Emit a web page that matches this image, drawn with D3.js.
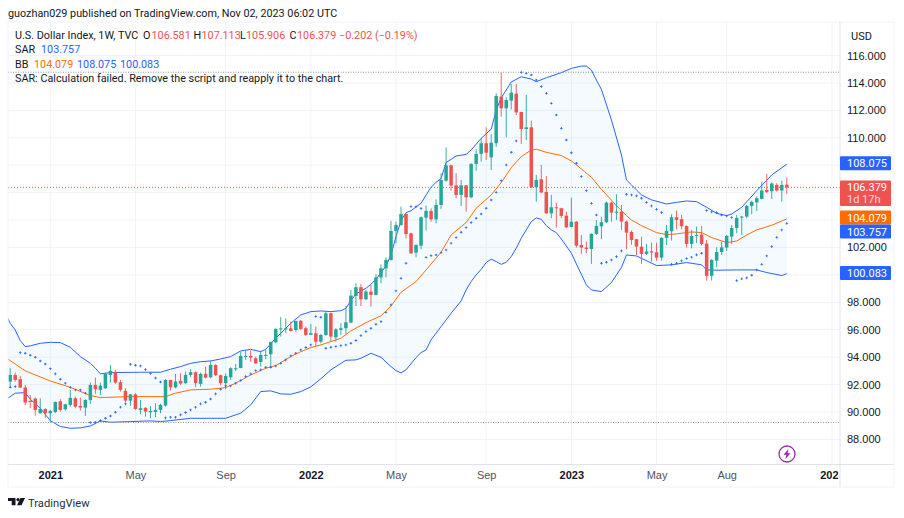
<!DOCTYPE html>
<html>
<head>
<meta charset="utf-8">
<script src="https://cdnjs.cloudflare.com/ajax/libs/d3/7.8.5/d3.min.js"></script>
<style>
   html, body { margin: 0; padding: 0; background: #ffffff; }
   svg { display: block; font-family: Roboto, sans-serif; }
   text { font-size: 11px; fill: #131722; }
</style>
</head>
<body>
<svg id="canvas"></svg>
<script>
// Weekly candles, index 0 is the week of Nov 9 2020
const opens = [
   92.22,92.70,92.39,91.78,90.81,90.98,89.91,90.22,89.91,90.00,90.78,90.20,90.52,91.00,90.44,90.32,90.88,91.97,91.61,91.73,
   92.70,92.92,92.17,91.54,90.83,91.29,90.15,90.30,89.98,90.00,90.15,90.47,92.34,91.80,92.27,92.10,92.70,92.90,92.05,92.78,
   92.53,93.43,92.68,92.10,92.53,93.16,93.21,94.04,94.09,93.92,93.65,94.11,94.21,95.08,96.06,96.06,96.10,95.98,96.65,96.11,
   95.62,95.74,95.13,95.62,97.20,95.45,95.99,96.11,96.52,98.46,99.10,98.22,98.78,98.54,99.82,100.48,101.09,103.20,103.64,104.44,
   103.03,101.62,102.13,104.17,104.66,104.05,105.10,106.87,107.99,106.53,105.83,106.53,105.66,108.09,108.82,109.60,108.57,109.60,113.00,112.15,
   112.71,113.22,111.88,110.64,110.76,106.39,106.97,106.05,104.49,104.93,104.86,104.32,103.50,103.88,102.18,101.99,101.89,102.99,103.54,103.84,
   105.27,104.54,104.61,103.89,103.13,102.60,102.06,101.53,101.72,101.65,101.26,102.70,103.18,104.20,104.06,103.57,102.26,102.86,102.94,102.28,
   99.93,101.04,101.67,101.99,102.79,103.42,104.18,104.25,105.03,105.29,105.54,106.19,106.10,106.56,106.15,106.581
];
const closes = [
   92.70,92.34,91.78,90.69,90.73,90.15,90.22,89.91,90.08,90.73,90.15,90.56,91.03,90.39,90.32,90.88,91.97,91.66,91.92,92.78,
   93.00,92.14,91.61,90.83,91.29,90.22,90.27,90.03,90.08,90.15,90.52,92.34,91.80,92.22,92.07,92.70,92.90,92.10,92.78,92.51,
   93.43,92.68,92.10,92.63,93.19,93.19,94.09,94.09,93.97,93.55,94.16,94.16,95.11,96.06,96.10,96.10,95.91,96.64,96.06,95.62,
   95.74,95.13,95.62,97.20,95.50,96.03,96.11,96.54,98.49,99.10,98.22,98.78,98.54,99.82,100.48,101.09,103.20,103.64,104.44,102.98,
   101.57,102.18,104.20,104.66,104.05,105.10,106.92,107.99,106.51,105.83,106.53,105.66,108.09,108.82,109.60,108.91,109.64,113.05,112.15,112.75,
   113.29,111.85,110.64,110.76,106.39,106.92,106.02,104.49,104.93,104.86,104.30,103.47,103.88,102.13,101.99,101.89,102.99,103.57,103.84,105.27,
   104.54,104.61,103.89,103.08,102.55,102.06,101.53,101.70,101.63,101.26,102.70,103.21,104.20,104.01,103.55,102.26,102.84,102.91,102.26,99.93,
   101.09,101.67,102.01,102.84,103.42,104.15,104.25,105.03,105.32,105.59,106.15,106.05,106.66,106.15,106.56,106.379
];
const highs = [
   93.19,92.87,92.63,91.97,91.24,91.05,91.00,90.27,90.15,90.76,90.93,90.59,91.61,91.12,91.05,90.93,92.14,92.51,92.14,92.87,
   93.43,93.07,92.34,91.73,91.32,91.37,90.88,90.35,90.44,90.64,90.59,92.39,92.34,92.78,92.82,92.95,93.12,92.95,92.87,93.31,
   93.75,93.48,92.73,92.82,93.26,93.50,94.40,94.48,94.48,94.04,94.48,94.52,95.13,96.10,96.91,96.83,96.59,96.66,96.71,96.23,
   96.42,96.23,95.67,97.32,97.25,96.11,96.47,97.73,98.90,99.39,99.34,98.90,99.27,100.04,100.77,101.28,103.93,103.88,104.98,104.54,
   103.08,102.23,104.25,105.05,104.85,105.51,107.41,109.30,108.04,107.41,106.92,106.56,108.14,109.16,109.96,110.76,110.28,113.24,114.75,112.95,
   113.92,113.92,111.90,113.12,111.25,107.29,108.02,107.21,105.83,105.27,104.90,104.61,105.63,103.93,102.91,102.43,103.03,104.00,104.25,105.34,
   105.34,105.88,105.10,103.96,103.23,102.62,102.79,102.26,102.35,102.35,102.74,103.64,104.42,104.69,104.37,103.59,103.28,103.52,103.57,102.55,
   101.14,102.01,102.43,102.91,103.64,104.37,104.30,105.10,105.42,105.71,106.80,107.36,106.75,106.68,106.87,107.113
];
const lows = [
   91.80,92.22,91.73,90.49,90.27,89.74,89.86,89.54,89.23,89.91,90.03,90.10,90.39,90.27,90.10,89.71,90.59,91.32,91.24,91.68,
   92.14,92.05,91.49,90.71,90.44,90.15,89.84,89.66,89.54,89.62,89.91,90.39,91.56,91.73,91.97,92.05,92.53,91.80,91.85,92.46,
   92.46,92.63,91.95,91.66,92.34,92.99,93.19,93.80,93.67,93.50,93.31,93.84,93.31,95.01,95.50,95.74,95.86,95.86,95.99,95.55,
   95.62,94.82,95.01,95.57,95.18,95.13,95.62,95.69,96.47,97.73,97.73,98.17,97.69,98.49,99.39,99.82,101.04,102.30,103.59,102.67,
   101.53,101.28,101.87,103.23,103.88,103.76,104.81,106.80,106.14,105.59,105.03,104.61,105.59,107.60,108.26,108.38,107.65,109.35,111.54,110.03,
   112.07,111.66,109.55,109.84,106.31,105.34,105.95,104.44,104.13,103.45,104.13,103.40,103.47,101.99,101.53,101.58,100.80,102.91,102.60,103.76,
   103.88,104.00,103.28,101.87,102.19,101.45,100.80,101.45,100.97,101.04,101.04,102.18,102.50,103.33,103.33,101.99,101.94,102.31,102.16,99.58,
   99.58,100.56,101.45,101.75,102.26,103.04,102.91,104.13,104.42,104.66,105.51,105.95,105.54,106.07,105.34,105.906
];
// Parabolic SAR per week, null where no dot is visible
const sarValues = [
   91.80,91.85,94.33,94.28,94.14,93.99,93.72,93.50,93.16,92.78,92.39,92.10,91.80,91.61,91.61,91.37,89.23,89.25,89.37,89.54,
   89.71,89.98,90.35,90.59,93.48,93.41,93.36,93.09,92.80,92.48,92.19,89.57,89.62,89.62,89.79,89.96,90.15,90.35,90.59,90.71,
   90.95,91.32,91.66,91.90,91.90,92.10,92.29,92.58,92.78,93.02,93.07,93.26,93.26,93.36,93.55,93.80,94.09,94.28,94.53,94.70,
   94.89,96.96,96.91,94.65,94.72,94.77,94.84,94.89,95.01,95.21,95.57,95.86,96.11,96.40,96.59,97.27,97.81,98.83,99.75,100.85,
   104.98,104.98,104.85,101.28,101.40,101.45,101.62,101.82,102.31,102.72,103.11,103.45,103.81,104.13,104.44,104.86,105.46,106.02,106.87,108.02,
   108.94,109.77,114.77,114.70,114.58,114.21,113.73,113.24,112.51,111.66,110.69,109.84,108.91,108.14,107.17,106.14,105.22,104.37,100.85,100.92,
   101.09,101.33,101.75,105.88,105.83,105.76,105.59,105.29,105.03,104.78,104.54,null,100.77,100.85,101.02,101.19,101.29,101.46,101.58,104.69,
   104.59,104.54,104.37,104.30,104.18,99.58,99.71,99.78,99.97,100.36,100.77,101.38,102.06,102.74,103.28,103.757
];
// Bollinger bands read as [week, value] at the places the line bends
const bbUpper = [
   [-1,97.20],[0,96.47],[1,95.98],[2,95.21],[3,94.77],[4,94.82],[6,95.01],[8,95.08],[10,95.06],[12,94.72],[14,94.04],[16,93.55],[17,93.19],[18,92.78],[20,92.87],
   [26,92.90],[30,92.90],[32,93.12],[34,93.31],[36,93.55],[38,93.67],[40,93.72],[42,93.87],[44,94.04],[46,94.45],[48,94.57],[50,94.40],[51,94.57],[53,95.38],[55,96.10],
   [56,96.47],[58,97.08],[60,97.32],[62,97.37],[64,97.32],[66,97.39],[67,97.56],[68,98.12],[69,98.61],[71,99.02],[72,99.31],[73,99.68],[75,100.65],[76,101.45],[77,102.79],
   [78,103.96],[79,104.54],[80,104.68],[82,105.22],[83,105.83],[84,106.39],[85,106.75],[86,107.04],[87,108.19],[88,108.43],[89,108.67],[91,108.79],[92,109.11],[94,109.96],[96,110.62],
   [97,112.02],[98,112.92],[99,113.48],[100,114.07],[102,114.45],[104,114.28],[105,114.09],[107,114.38],[110,114.75],[112,115.06],[114,115.23],[115,115.23],[116,114.94],[117,114.21],[118,113.53],
   [120,111.30],[122,108.74],[123,106.92],[124,106.56],[125,106.19],[126,105.83],[128,105.47],[131,105.17],[133,105.29],[135,105.39],[137,105.34],[139,104.93],[141,104.49],[143,104.32],[144,104.44],
   [146,104.93],[149,106.14],[152,107.29],[155,108.075]
];
const bbLower = [
   [-1,90.88],[0,91.12],[1,91.37],[3,91.41],[4,90.93],[6,90.27],[8,89.37],[10,88.94],[12,88.81],[14,88.84],[16,88.98],[18,89.35],[20,89.25],[24,89.30],[28,89.35],
   [30,89.30],[32,89.37],[36,89.54],[40,89.54],[43,89.54],[46,89.91],[48,90.52],[50,91.49],[52,91.54],[54,91.32],[56,91.29],[58,91.49],[60,91.83],[62,92.42],[64,93.07],
   [67,93.77],[69,93.80],[70,93.92],[72,94.28],[74,93.99],[76,93.31],[77,93.02],[78,92.85],[79,93.07],[81,93.97],[82,94.33],[83,94.53],[84,95.26],[86,96.23],[88,97.20],
   [90,98.10],[91,98.90],[92,99.51],[93,100.00],[94,100.40],[95,100.90],[96,101.14],[97,100.97],[98,100.77],[99,100.92],[100,101.33],[101,101.94],[102,102.67],[103,103.28],[104,103.88],
   [105,104.15],[106,104.05],[107,103.59],[108,103.28],[109,103.08],[110,102.62],[112,101.58],[113,100.80],[115,99.27],[116,98.90],[118,98.78],[120,99.44],[122,100.55],[123,101.45],[125,101.38],
   [129,100.68],[132,100.73],[135,100.90],[138,100.73],[139,100.36],[141,100.34],[145,100.36],[149,100.36],[151,100.17],[154,99.95],[155,100.083]
];
const bbBasis = [
   [-1,93.99],[0,93.75],[3,93.00],[8,92.26],[12,91.80],[16,91.20],[18,91.05],[24,91.12],[28,91.12],[31,91.12],[33,91.37],[36,91.61],[40,91.66],[43,91.78],[45,92.10],
   [48,92.70],[51,93.19],[53,93.38],[56,94.04],[58,94.40],[60,94.70],[62,94.89],[66,95.38],[68,95.91],[71,96.52],[74,97.01],[76,97.73],[78,98.73],[81,99.51],[83,100.36],
   [86,101.65],[88,102.91],[90,103.52],[91,103.81],[93,104.86],[96,105.83],[98,106.73],[100,107.82],[102,108.62],[104,109.11],[105,109.16],[107,108.94],[110,108.70],[112,108.31],[113,108.02],
   [116,107.12],[118,106.24],[121,105.05],[123,104.32],[124,104.00],[126,103.59],[129,103.08],[131,102.94],[133,102.99],[136,103.13],[138,103.08],[140,102.72],[143,102.35],[145,102.47],[147,102.91],
   [149,103.28],[152,103.62],[155,104.079]
];

// Axis ticks, the grid has a line at every even price but some labels sit under a price tag
const yTicks = [116,114,112,110,108,106,104,102,100,98,96,94,92,90,88];
const yTickLabels = [116,114,112,110,102,98,96,94,92,90,88];
const xTickWeeks = [8,25,43,60,77,95,112,129,143,164];
const xTickLabels = ["2021","May","Sep","2022","May","Sep","2023","May","Aug","2024"];
const xTickYears = ["2021","2022","2023","2024"];

// Marker lines and the last values shown in the legend and on the price scale
const rangeHigh = 114.78;
const rangeLow = 89.23;
const lastClose = 106.379;
const lastChange = "\u22120.202 (\u22120.19%)";
const bbLast = [104.079, 108.075, 100.083];
const sarLast = 103.757;
const countdown = "1d 17h";

const width = 904;
const height = 518;
const plotLeft = 8, plotRight = 840, plotTop = 22, plotBottom = 464.5, frameRight = 894, frameBottom = 487;

const colorUp = "#26a69a", colorDown = "#ef5350", colorBlue = "#2962ff", colorOrange = "#ff6d00";
const colorGrid = "#f0f3fa", colorFrame = "#e0e3eb";
const fontSize = "10.8px";
const scaleFontSize = "11px";
const fmt = d3.format(".3f");

const svg = d3.select("#canvas").attr("width", width).attr("height", height);

// week 0 sits at x=10.2, week 155 at x=786.8
const xScale = d3.scaleLinear().domain([0, 155]).range([10.2, 786.8]);
// 116 sits at y=55.5, 88 at y=439.4
const yScale = d3.scaleLinear().domain([116, 88]).range([55.5, 439.4]);

const defs = svg.append("defs");
defs.append("clipPath").attr("id", "plot-clip")
   .append("rect")
   .attr("x", plotLeft).attr("y", plotTop)
   .attr("width", plotRight - plotLeft).attr("height", plotBottom - plotTop);
// The last time label runs under the price scale
defs.append("clipPath").attr("id", "time-clip")
   .append("rect")
   .attr("x", plotLeft).attr("y", -7)
   .attr("width", plotRight - plotLeft - 1.5).attr("height", 30);

// Grid
const grid = svg.append("g");
grid.selectAll(".h").data(yTicks).enter().append("line")
   .attr("x1", plotLeft).attr("x2", plotRight)
   .attr("y1", d => yScale(d)).attr("y2", d => yScale(d))
   .attr("stroke", colorGrid);
grid.selectAll(".v").data(xTickWeeks).enter().append("line")
   .attr("x1", d => xScale(d)).attr("x2", d => xScale(d))
   .attr("y1", plotTop).attr("y2", plotBottom)
   .attr("stroke", colorGrid);

const plot = svg.append("g").attr("clip-path", "url(#plot-clip)");

// Bollinger band fill and lines
const bandLine = d3.line().x(d => xScale(d[0])).y(d => yScale(d[1]));
const bandFill = bandLine(bbUpper) + "L" + bandLine(bbLower.slice().reverse()).slice(1) + "Z";
plot.append("path").attr("d", bandFill).attr("fill", "rgba(33,150,243,0.05)");
plot.append("path").attr("d", bandLine(bbUpper)).attr("fill", "none").attr("stroke", colorBlue).attr("stroke-width", 1);
plot.append("path").attr("d", bandLine(bbLower)).attr("fill", "none").attr("stroke", colorBlue).attr("stroke-width", 1);
plot.append("path").attr("d", bandLine(bbBasis)).attr("fill", "none").attr("stroke", colorOrange).attr("stroke-width", 1);

// Highest, lowest and last price lines
plot.selectAll(".range").data([rangeHigh, rangeLow]).enter().append("line")
   .attr("x1", plotLeft).attr("x2", plotRight)
   .attr("y1", d => yScale(d)).attr("y2", d => yScale(d))
   .attr("stroke", "#9598a1").attr("stroke-dasharray", "1 1.5");
plot.append("line")
   .attr("x1", plotLeft).attr("x2", plotRight)
   .attr("y1", yScale(lastClose)).attr("y2", yScale(lastClose))
   .attr("stroke", colorDown).attr("stroke-dasharray", "1 2");

// Candles
const candleColor = i => closes[i] >= opens[i] ? colorUp : colorDown;
const candles = plot.selectAll(".candle").data(d3.range(opens.length)).enter().append("g");
candles.append("line")
   .attr("x1", i => xScale(i)).attr("x2", i => xScale(i))
   .attr("y1", i => yScale(highs[i])).attr("y2", i => yScale(lows[i]))
   .attr("stroke", candleColor).attr("stroke-width", 0.9);
candles.append("rect")
   .attr("x", i => xScale(i) - 1.75)
   .attr("y", i => yScale(Math.max(opens[i], closes[i])))
   .attr("width", 3.5)
   .attr("height", i => Math.max(1, Math.abs(yScale(opens[i]) - yScale(closes[i]))))
   .attr("fill", candleColor);

// SAR dots
plot.selectAll(".sar").data(d3.range(sarValues.length).filter(i => sarValues[i] !== null)).enter().append("path")
   .attr("transform", i => `translate(${xScale(i)},${yScale(sarValues[i])})`)
   .attr("d", d3.symbol().type(d3.symbolCross).size(3.6))
   .attr("fill", colorBlue);

// Frame
const frame = svg.append("g").attr("fill", "none").attr("stroke", colorFrame);
frame.append("rect")
   .attr("x", plotLeft).attr("y", plotTop)
   .attr("width", frameRight - plotLeft).attr("height", frameBottom - plotTop)
   .attr("stroke", colorGrid);
frame.append("line").attr("x1", plotLeft).attr("x2", frameRight).attr("y1", plotBottom).attr("y2", plotBottom);
frame.append("line").attr("x1", plotRight).attr("x2", plotRight).attr("y1", plotTop).attr("y2", frameBottom);

// Price axis
const yAxis = d3.axisRight(yScale).tickValues(yTickLabels).tickSize(0).tickPadding(0).tickFormat(fmt);
const yAxisGroup = svg.append("g").attr("transform", "translate(847,0)").call(yAxis);
yAxisGroup.select(".domain").remove();
yAxisGroup.selectAll("text").style("font-size", scaleFontSize).style("fill", "#131722");

svg.append("text").attr("x", 851).attr("y", 40).style("font-size", scaleFontSize).text("USD");

// Time axis
const xAxis = d3.axisBottom(xScale).tickValues(xTickWeeks).tickSize(0).tickPadding(0)
   .tickFormat((d, i) => xTickLabels[i]);
const xAxisGroup = svg.append("g")
   .attr("transform", `translate(0,${plotBottom + 7})`)
   .attr("clip-path", "url(#time-clip)")
   .call(xAxis);
xAxisGroup.select(".domain").remove();
xAxisGroup.selectAll("text")
   .style("font-size", scaleFontSize)
   .style("fill", (d, i) => xTickYears.includes(xTickLabels[i]) ? "#131722" : "#50535e")
   .style("font-weight", (d, i) => xTickYears.includes(xTickLabels[i]) ? "700" : "400");

// Price tags on the scale, offset is how far the tag was pushed to avoid its neighbour
const tags = [
   { value: bbLast[1], color: colorBlue, offset: -1, h: 14 },
   { value: bbLast[0], color: colorOrange, offset: -1.4, h: 14 },
   { value: sarLast, color: colorBlue, offset: 8.2, h: 14 },
   { value: bbLast[2], color: colorBlue, offset: -0.8, h: 14 }
];
const tagGroup = svg.append("g");
tagGroup.selectAll("rect").data(tags).enter().append("rect")
   .attr("x", plotRight).attr("y", d => yScale(d.value) + d.offset - d.h / 2)
   .attr("width", 51).attr("height", d => d.h).attr("rx", 1)
   .attr("fill", d => d.color);
tagGroup.selectAll("text").data(tags).enter().append("text")
   .attr("x", 847).attr("y", d => yScale(d.value) + d.offset + 4)
   .style("font-size", scaleFontSize).style("fill", "#ffffff")
   .text(d => fmt(d.value));

svg.append("rect")
   .attr("x", plotRight).attr("y", yScale(lastClose) - 7)
   .attr("width", 51).attr("height", 25.5).attr("rx", 1)
   .attr("fill", colorDown);
svg.append("text").attr("x", 847).attr("y", yScale(lastClose) + 4)
   .style("font-size", scaleFontSize).style("fill", "#ffffff").text(fmt(lastClose));
svg.append("text").attr("x", 847).attr("y", yScale(lastClose) + 15.5)
   .style("font-size", scaleFontSize).style("fill", "#ffffff").style("opacity", 0.75).text(countdown);

// Legend
svg.append("text").attr("x", 8).attr("y", 17).style("font-size", fontSize)
   .text("guozhan029 published on TradingView.com, Nov 02, 2023 06:02 UTC");

const legendRows = [
   { y: 39, parts: [
      { x: 15, t: "U.S. Dollar Index, 1W, TVC" },
      { x: 143, t: "O" }, { x: 151.5, t: fmt(opens[155]), c: colorDown },
      { x: 193.5, t: "H" }, { x: 201.5, t: fmt(highs[155]), c: colorDown },
      { x: 240, t: "L" }, { x: 246, t: fmt(lows[155]), c: colorDown },
      { x: 289.5, t: "C" }, { x: 297, t: fmt(lastClose), c: colorDown },
      { x: 339, t: lastChange, c: colorDown }
   ] },
   { y: 53, parts: [ { x: 15, t: "SAR" }, { x: 41, t: fmt(sarLast), c: colorBlue } ] },
   { y: 67.5, parts: [
      { x: 15, t: "BB" },
      { x: 34, t: fmt(bbLast[0]), c: colorOrange },
      { x: 77, t: fmt(bbLast[1]), c: colorBlue },
      { x: 120, t: fmt(bbLast[2]), c: colorBlue }
   ] },
   { y: 82, parts: [ { x: 15, t: "SAR: Calculation failed. Remove the script and reapply it to the chart." } ] }
];
legendRows.forEach(row => {
   row.parts.forEach(p => {
      svg.append("text").attr("x", p.x).attr("y", row.y)
         .style("font-size", fontSize)
         .style("fill", p.c || "#131722")
         .text(p.t);
   });
});

// Lightning badge
const badge = svg.append("g").attr("transform", "translate(787,454)");
badge.append("circle").attr("r", 8).attr("fill", "#ffffff").attr("stroke", "#9c27b0").attr("stroke-width", 1.3);
badge.append("path").attr("d", "M1.5,-5 L-3.5,0.8 L-0.6,0.8 L-1.5,5 L3.5,-0.8 L0.6,-0.8 Z").attr("fill", "#9c27b0");

// TradingView logo and name
const logo = svg.append("g").attr("transform", "translate(8,498)").attr("fill", "#131722");
logo.append("path").attr("d", "M0,0 H7.5 V7.2 H3.7 V3 H0 Z");
logo.append("circle").attr("cx", 10).attr("cy", 1.6).attr("r", 1.6);
logo.append("path").attr("d", "M12.5,0 H17 L13.5,7.2 H9 Z");
svg.append("text").attr("x", 28).attr("y", 507).style("font-size", "11.2px").style("fill", "#2a2e39").text("TradingView");
</script>
</body>
</html>
